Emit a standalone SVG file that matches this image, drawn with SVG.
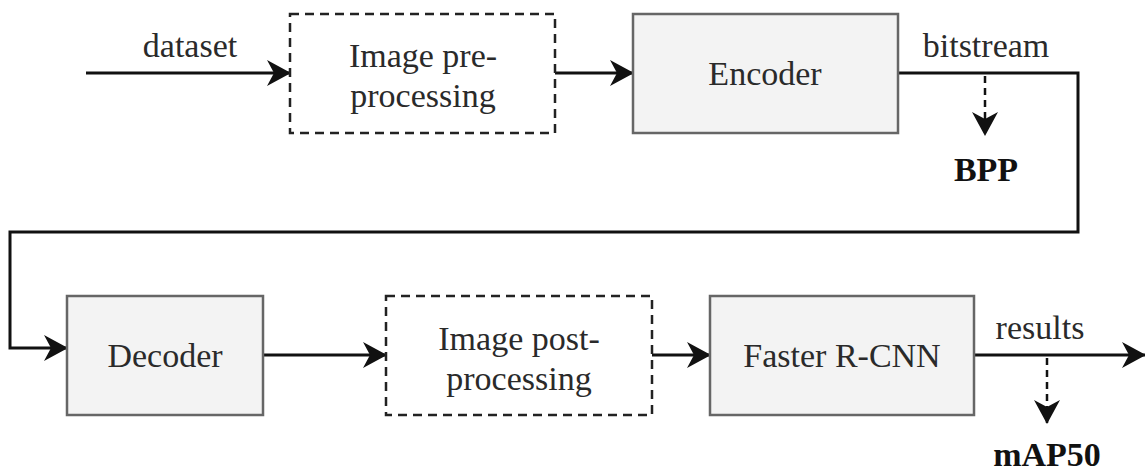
<svg xmlns="http://www.w3.org/2000/svg" width="1145" height="472" viewBox="0 0 1145 472">
  <style>
    text { font-family: 'Liberation Serif', Tinos, 'DejaVu Serif', serif; font-size: 34px; fill: #2a2a2a; text-anchor: middle; }
    .bold { font-weight: bold; fill: #111; }
    .box { fill: #f3f3f3; stroke: #666; stroke-width: 2.5; }
    .dash { fill: #fff; stroke: #222; stroke-width: 2.5; stroke-dasharray: 9 6; }
    .wire { fill: none; stroke: #111; stroke-width: 3; }
    .probe { fill: none; stroke: #111; stroke-width: 2.5; stroke-dasharray: 7 5; }
  </style>
  <defs>
    <!-- notched filled arrowhead shared by every connector -->
    <marker id="arrow" viewBox="0 0 24 26" refX="23" refY="13" markerWidth="24" markerHeight="26" markerUnits="userSpaceOnUse" orient="auto">
      <path d="M0,0 L24,13 L0,26 L7,13 Z" fill="#111"/>
    </marker>
  </defs>

  <rect width="1145" height="472" fill="#fff"/>

  <g id="connectors">
    <line class="wire" x1="86" y1="73" x2="290" y2="73" marker-end="url(#arrow)"/>
    <line class="wire" x1="555" y1="73" x2="633" y2="73" marker-end="url(#arrow)"/>
    <polyline class="wire" points="898,73 1078,73 1078,232 10,232 10,348 67,348" marker-end="url(#arrow)"/>
    <line class="wire" x1="263" y1="355" x2="386" y2="355" marker-end="url(#arrow)"/>
    <line class="wire" x1="652" y1="355" x2="710" y2="355" marker-end="url(#arrow)"/>
    <line class="wire" x1="974" y1="355" x2="1145" y2="355" marker-end="url(#arrow)"/>
    <line class="probe" x1="985" y1="76" x2="985" y2="135" marker-end="url(#arrow)"/>
    <line class="probe" x1="1047" y1="358" x2="1047" y2="423" marker-end="url(#arrow)"/>
    <text x="190" y="57">dataset</text>
    <text x="986" y="57">bitstream</text>
    <text x="1040" y="339">results</text>
    <text class="bold" x="986" y="181">BPP</text>
    <text class="bold" x="1047" y="466">mAP50</text>
  </g>

  <g id="pre-processing">
    <rect class="dash" x="290" y="14" width="265" height="119"/>
    <text x="423" y="67">Image pre-</text>
    <text x="423" y="107">processing</text>
  </g>

  <g id="encoder">
    <rect class="box" x="633" y="14" width="265" height="119"/>
    <text x="765" y="85">Encoder</text>
  </g>

  <g id="decoder">
    <rect class="box" x="67" y="296" width="196" height="119"/>
    <text x="165" y="367">Decoder</text>
  </g>

  <g id="post-processing">
    <rect class="dash" x="386" y="296" width="266" height="119"/>
    <text x="519" y="350">Image post-</text>
    <text x="519" y="390">processing</text>
  </g>

  <g id="faster-rcnn">
    <rect class="box" x="710" y="296" width="264" height="119"/>
    <text x="842" y="367">Faster R-CNN</text>
  </g>
</svg>
